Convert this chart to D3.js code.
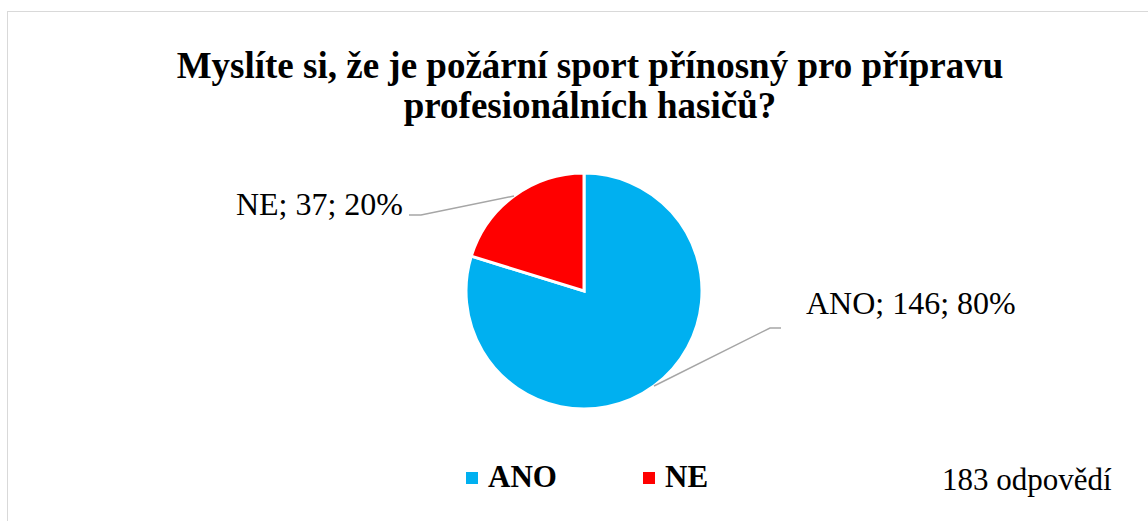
<!DOCTYPE html>
<html><head><meta charset="utf-8">
<script src="https://cdn.jsdelivr.net/npm/d3@7"></script>
<style>html,body{margin:0;padding:0;background:#fff;overflow:hidden}</style>
</head><body>
<svg id="c" width="1148" height="521"></svg>
<script>
const categories = ["ANO", "NE"];
const values = [146, 37];
const percents = ["80%", "20%"];
const colors = ["#00B0F0", "#FF0000"];
const titleLines = ["Myslíte si, že je požární sport přínosný pro přípravu", "profesionálních hasičů?"];
const note = "183 odpovědí";

const FF = '"Liberation Serif"';
const svg = d3.select("#c");

svg.append("rect").attr("x", 7.5).attr("y", 11.5).attr("width", 1300).attr("height", 700)
  .attr("fill", "#fff").attr("stroke", "#d9d9d9").attr("stroke-width", 1);

svg.selectAll("text.title").data(titleLines).enter().append("text")
  .attr("x", 590).attr("y", (d, i) => 78 + i * 40)
  .attr("text-anchor", "middle").style("font-family", FF).style("font-weight", "bold")
  .style("font-size", "37px").text(d => d);

const cx = 584, cy = 291, r = 118;
const pie = d3.pie().sort(null).value(d => d)(values);
const arc = d3.arc().innerRadius(0).outerRadius(r);
const g = svg.append("g").attr("transform", `translate(${cx},${cy})`);
g.selectAll("path").data(pie).enter().append("path")
  .attr("d", arc).attr("fill", (d, i) => colors[i])
  .attr("stroke", "#fff").attr("stroke-width", 3).attr("stroke-linejoin", "miter");

const mid = d => (d.startAngle + d.endAngle) / 2;
const pt = (a, rr) => [Math.sin(a) * rr, -Math.cos(a) * rr];
const leaders = [
  { elbow: [770 - cx, 328 - cy], end: [781 - cx, 328 - cy], label: [806 - cx, 314 - cy], anchor: "start" },
  { elbow: [421 - cx, 215 - cy], end: [409 - cx, 215 - cy], label: [403 - cx, 215 - cy], anchor: "end" }
];
pie.forEach((d, i) => {
  const p0 = pt(mid(d), r);
  const L = leaders[i];
  g.append("polyline").attr("points", [p0, L.elbow, L.end].map(p => p.join(",")).join(" "))
    .attr("fill", "none").attr("stroke", "#a6a6a6").attr("stroke-width", 1.5);
  g.append("text").attr("x", L.label[0]).attr("y", L.label[1]).attr("text-anchor", L.anchor)
    .style("font-family", FF).style("font-size", "32px").attr("fill", "#000")
    .text(`${categories[i]}; ${values[i]}; ${percents[i]}`);
});

const legX = [466, 643];
categories.forEach((c, i) => {
  svg.append("rect").attr("x", legX[i]).attr("y", 472).attr("width", 12).attr("height", 12).attr("fill", colors[i]);
  svg.append("text").attr("x", legX[i] + 22).attr("y", 487).style("font-family", FF)
    .style("font-weight", "bold").style("font-size", "31px").text(c);
});

svg.append("text").attr("x", 942).attr("y", 490).style("font-family", FF).style("font-size", "31px").text(note);
</script>
</body></html>
